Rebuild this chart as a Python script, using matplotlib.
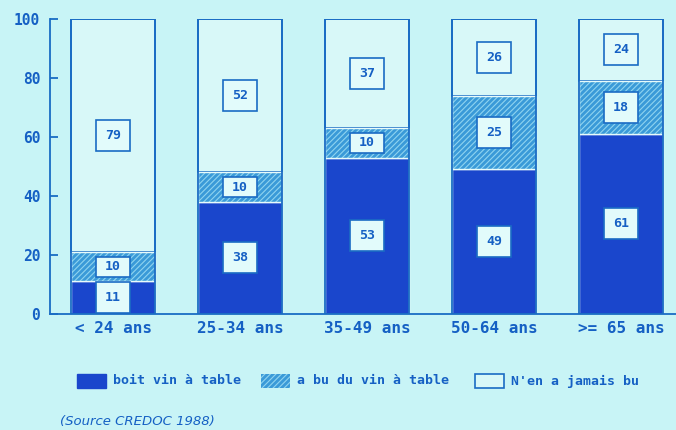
import matplotlib
matplotlib.use('Agg')
import matplotlib.pyplot as plt
from matplotlib.patches import Rectangle

# --- data ---
age_groups = ['< 24 ans', '25-34 ans', '35-49 ans', '50-64 ans', '>= 65 ans']
boit = [11, 38, 53, 49, 61]
a_bu = [10, 10, 10, 25, 18]
jamais = [79, 52, 37, 26, 24]
series_names = ['boit vin à table', 'a bu du vin à table', "N'en a jamais bu"]
y_ticks = [0, 20, 40, 60, 80, 100]

# --- colours ---
bg = '#c8f4f6'
dark = '#1a46cc'
mid = '#3a9ad8'
mid_hatch = '#8fd4f0'
light = '#d8f8f8'
line = '#1a6cc4'
txt = '#1560c4'
box_fc = '#e2fbfb'

plt.rcParams['hatch.linewidth'] = 0.8
mono = 'DejaVu Sans Mono'

fig = plt.figure(figsize=(6.76, 4.30), dpi=100, facecolor=bg)
ax = fig.add_axes([0.074, 0.270, 0.926, 0.686], facecolor=bg)

x = list(range(len(age_groups)))
w = 0.66
bottom_mid = boit
bottom_top = [b + a for b, a in zip(boit, a_bu)]
# the top segment fills the bar up to 100 (last group adds to 103 in the source)
top_h = [100 - b for b in bottom_top]

ax.bar(x, boit, w, color=dark, edgecolor='#e8fbfb', linewidth=1.0, zorder=2)
ax.bar(x, a_bu, w, bottom=bottom_mid, color=mid, edgecolor=mid_hatch,
       hatch='//////', linewidth=0, zorder=2)
ax.bar(x, a_bu, w, bottom=bottom_mid, color='none', edgecolor='#e8fbfb',
       linewidth=1.0, zorder=3)
ax.bar(x, top_h, w, bottom=bottom_top, color=light, edgecolor=line,
       linewidth=1.3, zorder=2)
# outline of whole bar
ax.bar(x, [100] * len(x), w, color='none', edgecolor=line, linewidth=1.3, zorder=4)

# value boxes
box_w = 0.27
for i in x:
    for val, b, h in [(boit[i], 0, boit[i]),
                      (a_bu[i], bottom_mid[i], a_bu[i]),
                      (jamais[i], bottom_top[i], top_h[i])]:
        bh = 10.5 if h > 10.5 else (h if h > 10 else 6.8)
        cy = b + h / 2
        ax.add_patch(Rectangle((i - box_w / 2, cy - bh / 2), box_w, bh,
                               facecolor=box_fc, edgecolor=line, linewidth=1.2,
                               zorder=5))
        ax.text(i, cy, str(val), ha='center', va='center', fontsize=9.5,
                fontweight='bold', family=mono, color=txt, zorder=6)

ax.set_xlim(-0.496, 4.433)
ax.set_ylim(0, 100)
ax.set_yticks(y_ticks)
ax.set_xticks(x)
ax.set_xticklabels(age_groups)
for lab in ax.get_xticklabels():
    lab.set_fontsize(11.5)
for lab in ax.get_yticklabels():
    lab.set_fontsize(10.5)
for lab in ax.get_xticklabels() + ax.get_yticklabels():
    lab.set_family(mono)
    lab.set_fontweight('bold')
    lab.set_color(txt)
ax.tick_params(axis='y', direction='in', length=6, width=1.3, color=line, pad=7)
ax.tick_params(axis='x', length=0, pad=5)
for s in ['top', 'right']:
    ax.spines[s].set_visible(False)
for s in ['left', 'bottom']:
    ax.spines[s].set_color(line)
    ax.spines[s].set_linewidth(1.3)

# legend, laid out by hand like the original
W, H = 676.0, 430.0
leg_y = 381
handle_x = [77, 261, 475]
for k, hx in enumerate(handle_x):
    if k == 0:
        kw = dict(facecolor=dark, edgecolor=dark, linewidth=1.0)
    elif k == 1:
        kw = dict(facecolor=mid, edgecolor=mid_hatch, hatch='//////', linewidth=0)
    else:
        kw = dict(facecolor=light, edgecolor=line, linewidth=1.2)
    fig.patches.append(Rectangle((hx / W, 1 - (leg_y + 7) / H), 29 / W, 14 / H,
                                 transform=fig.transFigure, **kw))
    fig.text((hx + 36) / W, 1 - leg_y / H, series_names[k], ha='left', va='center',
             family=mono, fontweight='bold', fontsize=9.5, color=txt)

fig.text(60 / W, 1 - 422 / H, '(Source CREDOC 1988)', fontsize=9.5, style='italic',
         color=txt, ha='left', va='center')

fig.savefig('out.png', dpi=100, facecolor=bg)
